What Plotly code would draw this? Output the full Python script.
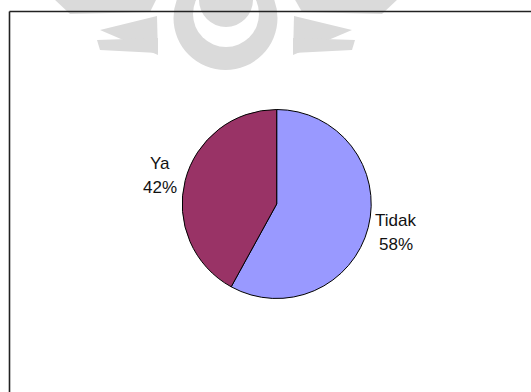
import plotly.graph_objects as go

# ---- data ----
labels = ["Tidak", "Ya"]
values = [58, 42]
colors = ["#9999FF", "#993366"]

W, H = 531, 392


def px(x):
    return x / W


def py(y):
    return 1 - y / H


fig = go.Figure()

fig.add_trace(go.Pie(
    labels=labels,
    values=values,
    sort=False,
    direction="clockwise",
    rotation=0,
    marker=dict(colors=colors, line=dict(color="#000000", width=1)),
    textinfo="none",
    hoverinfo="label+percent",
    showlegend=False,
    domain=dict(x=[px(182.2), px(371.2)], y=[py(298.5), py(109.5)]),
))

# ---- faint watermark (background decoration) ----
wm = "#dadada"
shapes = []


def circ(cx, cy, r, color):
    shapes.append(dict(type="circle", xref="paper", yref="paper",
                       x0=px(cx - r), x1=px(cx + r), y0=py(cy + r), y1=py(cy - r),
                       fillcolor=color, line=dict(width=0), layer="below"))


def poly(pts, color):
    d = "M " + " L ".join(f"{px(x):.5f},{py(y):.5f}" for x, y in pts) + " Z"
    shapes.append(dict(type="path", xref="paper", yref="paper", path=d,
                       fillcolor=color, line=dict(width=0), layer="below"))


# wings
poly([(100, 30), (157, 16), (158, 55)], wm)
poly([(352, 30), (294, 16), (293, 55)], wm)
poly([(53, -2), (157, -2), (150, 12), (70, 14)], wm)
poly([(399, -2), (294, -2), (302, 12), (382, 14)], wm)
poly([(97, 40), (158, 38), (158, 53), (100, 50)], wm)
poly([(355, 40), (293, 38), (293, 53), (352, 50)], wm)
# central emblem
circ(225.5, 18, 52, wm)
circ(226, 14, 33, "white")
circ(226, 0, 27, wm)

# frame (top and left visible)
shapes.append(dict(type="line", xref="paper", yref="paper",
                   x0=px(9.5), x1=px(540), y0=py(11.5), y1=py(11.5),
                   line=dict(color="#222222", width=1.6)))
shapes.append(dict(type="line", xref="paper", yref="paper",
                   x0=px(9.5), x1=px(9.5), y0=py(11.5), y1=py(400),
                   line=dict(color="#222222", width=1.6)))

# ---- labels ----
label_pos = {"Tidak": ((395.5, 220.5), (396, 244.5)),
             "Ya": ((160.3, 163), (160.3, 187))}
total = sum(values)
annotations = []
for lab, val in zip(labels, values):
    (x1, y1), (x2, y2) = label_pos[lab]
    annotations.append(dict(x=px(x1), y=py(y1), xref="paper", yref="paper",
                            text=lab, showarrow=False, xanchor="center", yanchor="middle",
                            font=dict(family="Liberation Sans, Arial", size=17, color="#111111")))
    annotations.append(dict(x=px(x2), y=py(y2), xref="paper", yref="paper",
                            text=f"{round(val / total * 100)}%", showarrow=False,
                            xanchor="center", yanchor="middle",
                            font=dict(family="Liberation Sans, Arial", size=17, color="#111111")))

fig.update_layout(
    width=W, height=H,
    margin=dict(l=0, r=0, t=0, b=0),
    paper_bgcolor="white",
    plot_bgcolor="white",
    shapes=shapes,
    annotations=annotations,
)

fig.write_html("out.html", config={"displayModeBar": False})
